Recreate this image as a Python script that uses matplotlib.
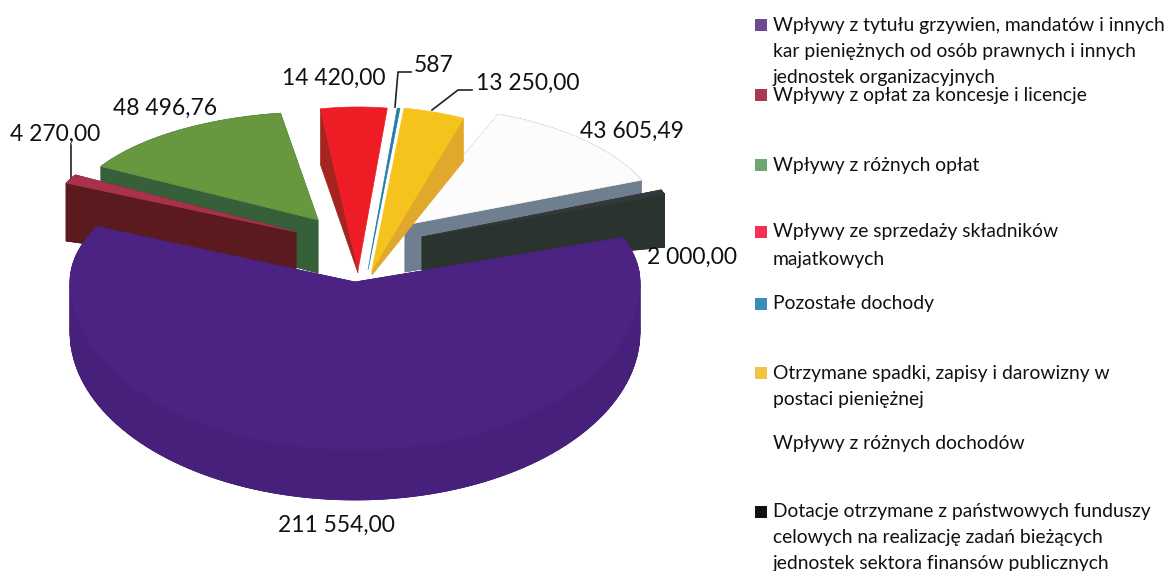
import matplotlib
matplotlib.use("Agg")
import matplotlib.pyplot as plt
import numpy as np

# dane
values = [211554.00, 4270.00, 48496.76, 14420.00, 587, 13250.00, 43605.49, 2000.00]
value_labels = ["211 554,00", "4 270,00", "48 496,76", "14 420,00", "587", "13 250,00", "43 605,49", "2 000,00"]
legend_lines = [
    ["Wpływy z tytułu grzywien, mandatów i innych", "kar pieniężnych od osób prawnych i innych", "jednostek organizacyjnych"],
    ["Wpływy z opłat za koncesje i licencje"],
    ["Wpływy z różnych opłat"],
    ["Wpływy ze sprzedaży składników", "majatkowych"],
    ["Pozostałe dochody"],
    ["Otrzymane spadki, zapisy i darowizny w", "postaci pieniężnej"],
    ["Wpływy z różnych dochodów"],
    ["Dotacje otrzymane z państwowych funduszy", "celowych na realizację zadań bieżących", "jednostek sektora finansów publicznych"],
]

# styl wycinkow (piksele obrazka)
top_col = ["#4C2282", "#A8324A", "#67983F", "#EE1C25", "#1F7FA8", "#F6C21C", "#FCFCFC", "#34383A"]
wall_col = ["#46207A", "#5A1A1E", "#35603A", "#A5241F", "#14607E", "#E0A92B", "#6F7F8F", "#2A332E"]
legend_col = ["#6B4A96", "#A83A55", "#6FA56F", "#F22F55", "#3C8DB5", "#F2C443", "none", "#111111"]
apex_x = [355, 296, 318, 358, 368, 372, 405, 422]
apex_y = [282, 232, 220, 270, 270, 270, 225, 237]
rx = [285, 254, 250, 250, 250, 250, 255, 258]
ry_back = [130, 115, 108, 163, 163, 163, 119, 125]
ry_front = [168, 115, 108, 163, 163, 163, 119, 125]
depth_out = [50, 58, 50, 56, 0, 43, 50, 53]
depth_in = [50, 41, 53, 3, 0, 5, 47, 33]
# ktore sciany widac: all / left / right / none
wall_side = ["all", "all", "all", "left", "none", "right", "all", "all"]
draw_order = [6, 7, 2, 1, 3, 5, 4, 0]
start_angle = 20

label_x = [336, 55, 165, 334, 434, 528, 632, 692]
label_y = [525, 134, 108, 78, 66, 83, 131, 257]
legend_y = [25, 95, 165, 232, 304, 373, 444, 512]
line_step = [26.5, 0, 0, 28, 0, 27, 0, 25.5]

fig = plt.figure(figsize=(11.68, 5.71), dpi=100)
ax = fig.add_axes([0, 0, 1, 1])
ax.set_xlim(0, 1168)
ax.set_ylim(571, 0)
ax.axis("off")

sweep = np.array(values) / sum(values) * 360
ends = start_angle - np.cumsum(sweep)
starts = ends + sweep


def outline(i):
    a = np.radians(np.linspace(starts[i], ends[i], 120))
    ry = np.where(np.sin(a) > 0, ry_back[i], ry_front[i])
    x = apex_x[i] + rx[i] * np.cos(a)
    y = apex_y[i] - ry * np.sin(a)
    return np.r_[apex_x[i], x], np.r_[apex_y[i], y]


for i in draw_order:
    x, y = outline(i)
    d = np.r_[depth_in[i], np.full(len(x) - 1, depth_out[i])]
    # sciany boczne
    if wall_side[i] == "all":
        ax.fill(x, y + d, color=wall_col[i], lw=0.5)
        edges = range(len(x))
    elif wall_side[i] == "left":
        edges = [0]
    elif wall_side[i] == "right":
        edges = [len(x) - 1]
    else:
        edges = []
    for k in edges:
        n = (k + 1) % len(x)
        ax.fill([x[k], x[n], x[n], x[k]], [y[k], y[n], y[n] + d[n], y[k] + d[k]], color=wall_col[i], lw=0.5)
    ax.fill(x, y, color=top_col[i], lw=0.5)

# podpisy
for i in range(len(values)):
    ax.text(label_x[i], label_y[i], value_labels[i], family="Lato", fontsize=16.5, color="#111111", ha="center", va="center")

# linie odniesienia
ax.plot([71, 71], [145, 177], color="#222222", lw=1.2)
ax.plot([395, 398, 411], [107, 72, 72], color="#222222", lw=1.2)
ax.plot([432, 458, 472], [110, 90, 90], color="#222222", lw=1.2)

# legenda
for i in range(len(legend_lines)):
    if legend_col[i] != "none":
        ax.scatter(761, legend_y[i], s=80, marker="s", color=legend_col[i], lw=0)
    for j in range(len(legend_lines[i])):
        ax.text(773, legend_y[i] + j * line_step[i], legend_lines[i][j], family="Lato", fontsize=13.9, color="#111111", va="center", ha="left")

fig.savefig("out.png", dpi=100)
